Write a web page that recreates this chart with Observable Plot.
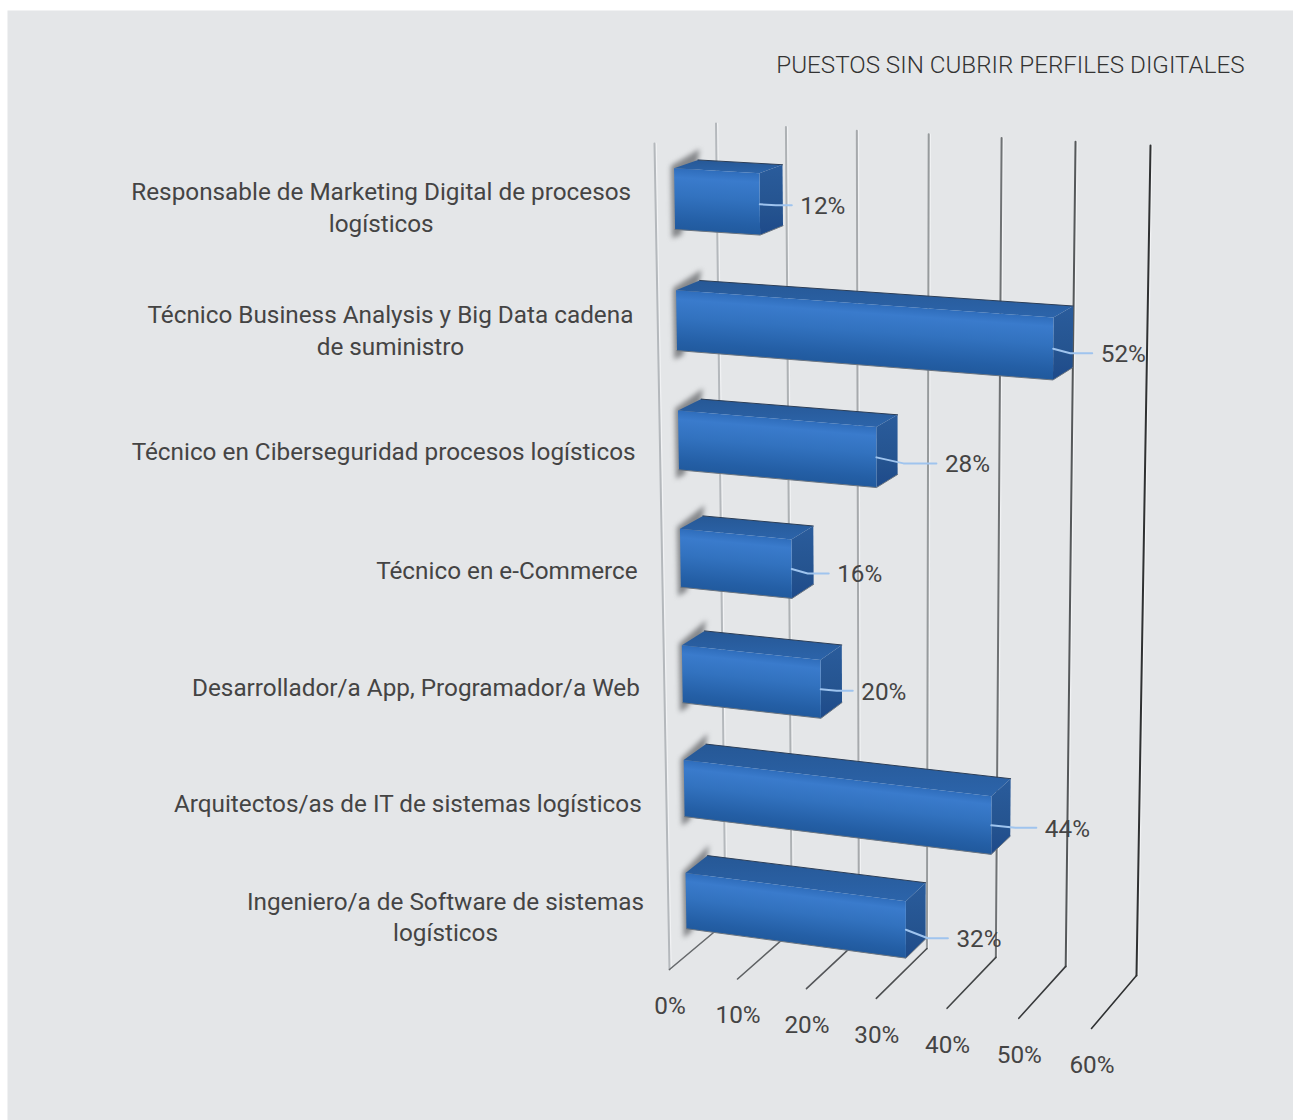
<!DOCTYPE html>
<html lang="es">
<head>
<meta charset="utf-8">
<title>Puestos sin cubrir perfiles digitales</title>
<script src="https://cdn.jsdelivr.net/npm/d3@7"></script>
<script src="https://cdn.jsdelivr.net/npm/@observablehq/plot@0.6"></script>
<style>
  html, body { margin: 0; padding: 0; background: #fff; }
  svg { display: block; }
</style>
</head>
<body>
<div id="chart"></div>
<script>
// Chart content
const chartTitle = "PUESTOS SIN CUBRIR PERFILES DIGITALES";
const categories = [
  "Responsable de Marketing Digital de procesos\nlogísticos",
  "Técnico Business Analysis y Big Data cadena\nde suministro",
  "Técnico en Ciberseguridad procesos logísticos",
  "Técnico en e-Commerce",
  "Desarrollador/a App, Programador/a Web",
  "Arquitectos/as de IT de sistemas logísticos",
  "Ingeniero/a de Software de sistemas\nlogísticos"
];
const values = [12, 52, 28, 16, 20, 44, 32];
const ticks = [0, 10, 20, 30, 40, 50, 60];

// Callout geometry for the value labels: elbow and end of each leader, in px from the bar
const leaderElbow = [16, 17, 27, 16, 16, 24, 22];
const leaderEnd = [32, 39, 60, 37, 32, 45, 42];
const leaderDrop = [1, 4.5, 6, 4.5, 1.5, 2.5, 8.5];

// Perspective box: the chart lives on a floor and a back wall seen from above-left
const maxValue = 60;
const backWall = [[715.5, 123], [1150, 145], [1136, 975], [725, 922]];
const frontPlane = [[654, 143], [1100, 170], [1091, 1028], [669, 969]];
const barDepth = [0.31, 0.70];

function homography([[x0, y0], [x1, y1], [x2, y2], [x3, y3]]) {
  const dx1 = x1 - x2, dx2 = x3 - x2, dx3 = x0 - x1 + x2 - x3;
  const dy1 = y1 - y2, dy2 = y3 - y2, dy3 = y0 - y1 + y2 - y3;
  const den = dx1 * dy2 - dx2 * dy1;
  const g = (dx3 * dy2 - dx2 * dy3) / den, h = (dx1 * dy3 - dx3 * dy1) / den;
  const a = x1 - x0 + g * x1, b = x3 - x0 + h * x3;
  const d = y1 - y0 + g * y1, e = y3 - y0 + h * y3;
  return (u, v) => {
    const w = g * u + h * v + 1;
    return [(a * u + b * v + x0) / w, (d * u + e * v + y0) / w];
  };
}
const backMap = homography(backWall);
const frontMap = homography(frontPlane);

// value, height down the wall (0..1), depth from front (0) to back (1)
function project(value, t, depth) {
  const u = value / maxValue;
  const [fx, fy] = frontMap(u, t), [bx, by] = backMap(u, t);
  return { x: fx + (bx - fx) * depth, y: fy + (by - fy) * depth };
}

const rowScale = d3.scaleBand(d3.range(categories.length), [0, 1.002]).paddingInner(0.5).paddingOuter(0.25);

const colorByTick = d3.scaleLinear([0, 20, 30, 40, 50, 60], ["#b4b8bc", "#a6a9ac", "#969a9c", "#6f7274", "#55585a", "#2f3132"]);
const floorByTick = d3.scaleLinear([0, 60], ["#66696c", "#2f3132"]);

const wallLines = ticks.map(v => [project(v, 0, 1), project(v, 1, 1)].map(p => ({ ...p, tick: v, color: colorByTick(v) }))).flat();
const edgeLine = [project(0, 0, 0), project(0, 1, 0)].map(p => ({ ...p, tick: "edge", color: "#b4b8bc" }));
const floorLines = ticks.map(v => [project(v, 1, 0), project(v, 1, 1)].map(p => ({ ...p, tick: v, color: floorByTick(v) }))).flat();

const shadows = [], tops = [], sides = [], fronts = [], backEdges = [], lowEdges = [], leaders = [], valueLabels = [], rowLabels = [];
const defs = d3.create("svg:defs");

const fontSize = 24.3;
const measure = document.createElement("canvas").getContext("2d");
measure.font = `${fontSize}px Roboto`;

values.forEach((value, i) => {
  const t0 = rowScale(i), t1 = t0 + rowScale.bandwidth();
  const [dF, dB] = barDepth;
  const ftl = project(0, t0, dF), ftr = project(value, t0, dF), fbr = project(value, t1, dF), fbl = project(0, t1, dF);
  const btl = project(0, t0, dB), btr = project(value, t0, dB), bbr = project(value, t1, dB);

  const poly = (target, pts) => pts.forEach(p => target.push({ x: p.x, y: p.y, row: i }));
  poly(fronts, [ftl, ftr, fbr, fbl]);
  poly(tops, [ftl, btl, btr, ftr]);
  poly(sides, [ftr, btr, bbr, fbr]);
  poly(backEdges, [btl, btr]);
  poly(lowEdges, [fbl, fbr, bbr]);
  poly(shadows, [
    project(0, t0 - 0.012, dB + 0.03), project(0, t0 - 0.004, dF - 0.05),
    project(0, t1 + 0.009, dF - 0.05), project(0, t1 + 0.009, dF + 0.1), project(0, t0, dB)
  ]);

  // Shading runs across the bar, parallel to its slanted top edge
  const ex = ftr.x - ftl.x, ey = ftr.y - ftl.y, nlen = Math.hypot(ex, ey);
  const nx = -ey / nlen, ny = ex / nlen;
  const span = (fbl.x - ftl.x) * nx + (fbl.y - ftl.y) * ny;
  const grad = defs.append("linearGradient").attr("id", `front${i}`).attr("gradientUnits", "userSpaceOnUse")
    .attr("x1", ftl.x).attr("y1", ftl.y).attr("x2", ftl.x + nx * span).attr("y2", ftl.y + ny * span);
  [[0, "#2f6dbb"], [0.15, "#3a7bcc"], [0.45, "#3272bf"], [0.85, "#245fa6"], [1, "#215a9e"]]
    .forEach(([o, c]) => grad.append("stop").attr("offset", o).attr("stop-color", c));

  const mid = project(value, (t0 + t1) / 2, dF);
  const ly = mid.y + leaderDrop[i];
  [[mid.x, mid.y], [mid.x + leaderElbow[i], ly], [mid.x + leaderEnd[i], ly]]
    .forEach(([x, y]) => leaders.push({ x, y, row: i }));
  valueLabels.push({ x: mid.x + leaderEnd[i] + 8.5, y: ly + 1, text: `${value}%` });

  // Category text is centred on its longest line, which ends just left of the wall's edge
  const edge = project(0, (t0 + t1) / 2, 0);
  const longest = d3.max(categories[i].split("\n"), s => measure.measureText(s).width);
  rowLabels.push({ x: edge.x - 24.5 - longest / 2, y: edge.y + 0.3, text: categories[i] });
});

defs.append("linearGradient").attr("id", "sideFace").attr("x1", 0).attr("y1", 0).attr("x2", 0).attr("y2", 1)
  .call(g => [[0, "#2a5c9c"], [0.6, "#255490"], [1, "#1e4a8a"]].forEach(([o, c]) => g.append("stop").attr("offset", o).attr("stop-color", c)));
defs.append("linearGradient").attr("id", "topFace").attr("x1", 0).attr("y1", 0).attr("x2", 0).attr("y2", 1)
  .call(g => [[0, "#265896"], [1, "#2c64aa"]].forEach(([o, c]) => g.append("stop").attr("offset", o).attr("stop-color", c)));

const axisLabels = ticks.map(v => {
  const p = project(v, 1, 0);
  return { x: p.x + 0.5, y: p.y + 36.7, text: `${v}%` };
});

const textStyle = { fontFamily: "Roboto", fontSize, fill: "#444444" };
const closed = { x: "x", y: "y", z: "row", curve: "linear-closed" };

const chart = Plot.plot({
  width: 1293,
  height: 1120,
  marginLeft: 7,
  marginTop: 10,
  marginRight: 0,
  marginBottom: 0,
  x: { type: "identity", axis: null },
  y: { type: "identity", axis: null },
  color: { type: "identity" },
  style: { fontFamily: "Roboto", background: "#ffffff" },
  marks: [
    Plot.frame({ fill: "#e4e6e8", stroke: "none" }),
    () => defs.node(),
    // Wall and floor rules, with the pale highlight beside them
    Plot.line(wallLines.concat(edgeLine), { x: d => d.x + 1.5, y: "y", z: "tick", stroke: "#f4f5f6", strokeWidth: 1.6, strokeOpacity: 0.8 }),
    Plot.line(wallLines.concat(edgeLine), { x: "x", y: "y", z: "tick", stroke: "color", strokeWidth: 2, imageFilter: "blur(0.3px)" }),
    Plot.line(floorLines, { x: "x", y: "y", z: "tick", stroke: "color", strokeWidth: 1.6, imageFilter: "blur(0.3px)" }),
    // Bars: soft shadow on the side wall, then top, end and front faces
    Plot.line(shadows, { ...closed, fill: "#85878a", imageFilter: "blur(2.6px)" }),
    Plot.line(tops, { ...closed, fill: "url(#topFace)" }),
    Plot.line(sides, { ...closed, fill: "url(#sideFace)" }),
    Plot.line(fronts, { ...closed, fill: d => `url(#front${d.row})` }),
    Plot.line(backEdges, { x: "x", y: "y", z: "row", stroke: "#2c3e57", strokeWidth: 1 }),
    Plot.line(lowEdges, { x: "x", y: "y", z: "row", stroke: "#6b7580", strokeWidth: 1 }),
    // Value callouts
    Plot.line(leaders, { x: "x", y: "y", z: "row", stroke: "#9fc4ee", strokeWidth: 2 }),
    Plot.text(valueLabels, { x: "x", y: "y", text: "text", textAnchor: "start", ...textStyle }),
    Plot.text(axisLabels, { x: "x", y: "y", text: "text", textAnchor: "middle", ...textStyle }),
    Plot.text(rowLabels, { x: "x", y: "y", text: "text", textAnchor: "middle", lineHeight: 1.29, ...textStyle }),
    Plot.text([chartTitle], { x: 1244, y: 64.5, text: d => d, textAnchor: "end", fontFamily: "Roboto", fontSize: 24.2, fontWeight: 300, fill: "#333333" })
  ]
});
document.getElementById("chart").append(chart);
</script>
</body>
</html>
